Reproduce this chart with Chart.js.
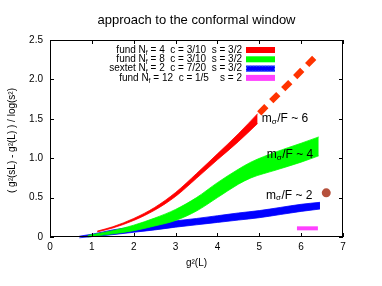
<!DOCTYPE html>
<html>
<head>
<meta charset="utf-8">
<script src="https://cdn.jsdelivr.net/npm/chart.js@4.4.1/dist/chart.umd.min.js"></script>
<style>
  html, body { margin: 0; padding: 0; background: #fff; }
  #wrap { width: 382px; height: 286px; }
</style>
</head>
<body>
<div id="wrap"><canvas id="c" width="382" height="286"></canvas></div>
<script>
/* DATA */
const redX      = [1.13, 1.5, 2.0, 2.5, 3.0, 3.5, 4.0, 4.5, 4.96];
const redTop    = [0.075, 0.13, 0.235, 0.375, 0.565, 0.805, 1.055, 1.31, 1.565];
const redBottom = [0.065, 0.115, 0.21, 0.34, 0.515, 0.745, 0.98, 1.21, 1.44];

const redDashX = [5.0, 6.4];
const redDashY = [1.57, 2.32];

const greenX      = [0.9, 1.5, 2.0, 2.5, 3.0, 3.5, 4.0, 4.5, 4.8, 5.4, 6.0, 6.42];
const greenTop    = [0.02, 0.08, 0.15, 0.24, 0.35, 0.50, 0.69, 0.86, 0.95, 1.08, 1.19, 1.27];
const greenBottom = [0.00, 0.04, 0.08, 0.14, 0.21, 0.33, 0.50, 0.67, 0.75, 0.85, 0.95, 1.03];

const blueX      = [0.7, 1.0, 1.5, 2.0, 2.5, 3.0, 3.5, 4.0, 4.5, 5.0, 5.5, 6.0, 6.45];
const blueTop    = [0.01, 0.035, 0.09, 0.13, 0.17, 0.205, 0.235, 0.27, 0.305, 0.335, 0.375, 0.415, 0.44];
const blueBottom = [-0.01, 0.005, 0.03, 0.06, 0.09, 0.125, 0.155, 0.185, 0.215, 0.245, 0.285, 0.325, 0.355];

const magentaX = [5.9, 6.4];
const magentaY = [0.11, 0.11];

const dotX = [6.6];
const dotY = [0.56];

const legendLabels = [
  ["fund N", "f", " = 4  c = 3/10  s = 3/2"],
  ["fund N", "f", " = 8  c = 3/10  s = 3/2"],
  ["sextet N", "f", " = 2  c = 7/20  s = 3/2"],
  ["fund N", "f", " = 12  c = 1/5    s = 2"]
];
const legendColors = ["#ff0000", "#00ff00", "#0000ff", "#ff40ff"];

const massLabels = [
  { x: 5.06, y: 1.50, text: "/F ~ 6" },
  { x: 5.18, y: 1.04, text: "/F ~ 4" },
  { x: 5.16, y: 0.53, text: "/F ~ 2" }
];

const xTicks = [0, 1, 2, 3, 4, 5, 6, 7];
const yTicks = [0, 0.5, 1, 1.5, 2, 2.5];

const pts = (xs, ys) => xs.map((x, i) => ({ x, y: ys[i] }));

const FONT = "'Liberation Sans', Arial, sans-serif";

function band(xs, top, bottom, color) {
  const common = { borderColor: color, borderWidth: 0.8, pointRadius: 0, cubicInterpolationMode: "monotone" };
  return [
    { ...common, data: pts(xs, top), backgroundColor: color, fill: "+1" },
    { ...common, data: pts(xs, bottom), fill: false }
  ];
}

/* extra drawing: frame, inward ticks, titles, legend, labels */
const decor = {
  id: "decor",
  afterDraw(chart) {
    const { ctx, chartArea: a, scales } = chart;
    const sx = scales.x, sy = scales.y;
    ctx.save();

    // frame
    ctx.strokeStyle = "#000";
    ctx.lineWidth = 1;
    ctx.strokeRect(a.left + 0.5, a.top + 0.5, a.right - a.left - 1, a.bottom - a.top - 1);

    // inward ticks
    const t = 4;
    ctx.beginPath();
    xTicks.forEach(v => {
      const px = Math.round(sx.getPixelForValue(v)) + 0.5;
      ctx.moveTo(px, a.bottom); ctx.lineTo(px, a.bottom - t);
      ctx.moveTo(px, a.top); ctx.lineTo(px, a.top + t);
    });
    yTicks.forEach(v => {
      const py = Math.round(sy.getPixelForValue(v)) + 0.5;
      ctx.moveTo(a.left, py); ctx.lineTo(a.left + t, py);
      ctx.moveTo(a.right, py); ctx.lineTo(a.right - t, py);
    });
    ctx.stroke();

    // title
    ctx.fillStyle = "#000";
    ctx.font = "13px " + FONT;
    ctx.textAlign = "center";
    ctx.textBaseline = "middle";
    ctx.fillText("approach to the conformal window", (a.left + a.right) / 2, 20);

    // axis titles
    ctx.font = "10px " + FONT;
    ctx.fillText("g\u00b2(L)", (a.left + a.right) / 2, 263);
    ctx.save();
    ctx.translate(12, (a.top + a.bottom) / 2 + 2);
    ctx.rotate(-Math.PI / 2);
    ctx.fillText("( g\u00b2(sL) - g\u00b2(L) ) / log(s\u00b2)", 0, 0);
    ctx.restore();

    // legend
    const rightX = 242;
    legendLabels.forEach((parts, i) => {
      const y = 50 + i * 9.3;
      ctx.font = "10px " + FONT;
      const w0 = ctx.measureText(parts[0]).width;
      const w2 = ctx.measureText(parts[2]).width;
      ctx.font = "7px " + FONT;
      const w1 = ctx.measureText(parts[1]).width;
      let x = rightX - (w0 + w1 + w2);
      ctx.textAlign = "left";
      ctx.textBaseline = "middle";
      ctx.font = "10px " + FONT;
      ctx.fillText(parts[0], x, y);
      x += w0;
      ctx.font = "7px " + FONT;
      ctx.fillText(parts[1], x, y + 3);
      x += w1;
      ctx.font = "10px " + FONT;
      ctx.fillText(parts[2], x, y);

      ctx.fillStyle = legendColors[i];
      ctx.fillRect(246, y - 3, 29, 6);
      if (i === 2) {
        ctx.strokeStyle = "#3366ff";
        ctx.setLineDash([2, 1]);
        ctx.strokeRect(246.5, y - 2.5, 28, 5);
        ctx.setLineDash([]);
      }
      ctx.fillStyle = "#000";
    });

    // m_sigma/F labels
    massLabels.forEach(l => {
      const px = sx.getPixelForValue(l.x);
      const py = sy.getPixelForValue(l.y);
      ctx.textAlign = "left";
      ctx.textBaseline = "middle";
      ctx.font = "12px " + FONT;
      ctx.fillText("m", px, py);
      let x = px + ctx.measureText("m").width;
      ctx.font = "8px " + FONT;
      ctx.fillText("\u03c3", x, py + 3);
      x += ctx.measureText("\u03c3").width + 0.5;
      ctx.font = "12px " + FONT;
      ctx.fillText(l.text, x, py);
    });

    ctx.restore();
  }
};

new Chart(document.getElementById("c"), {
  type: "line",
  data: {
    datasets: [
      ...band(redX, redTop, redBottom, "#ff0000"),
      ...band(greenX, greenTop, greenBottom, "#00ff00"),
      ...band(blueX, blueTop, blueBottom, "#0000ff"),
      { data: pts(redDashX, redDashY), borderColor: "#ff3300", borderWidth: 6, borderDash: [10, 7], borderCapStyle: "butt", pointRadius: 0, fill: false },
      { data: pts(magentaX, magentaY), borderColor: "#ff40ff", borderWidth: 4, pointRadius: 0, fill: false },
      { data: pts(dotX, dotY), showLine: false, pointRadius: 4.5, pointBackgroundColor: "#b5503c", pointBorderColor: "#b5503c", pointBorderWidth: 0 }
    ]
  },
  options: {
    responsive: false,
    animation: false,
    clip: false,
    layout: { padding: { top: 40, right: 39, left: 0, bottom: 0 } },
    plugins: { legend: { display: false }, title: { display: false }, tooltip: { enabled: false } },
    scales: {
      x: {
        type: "linear", min: 0, max: 7,
        grid: { display: false, drawTicks: false }, border: { display: false },
        ticks: { stepSize: 1, color: "#000", font: { family: FONT, size: 10 }, padding: 4, maxRotation: 0 },
        afterFit: s => { s.height = 49; }
      },
      y: {
        type: "linear", min: 0, max: 2.5,
        grid: { display: false, drawTicks: false }, border: { display: false },
        ticks: { stepSize: 0.5, color: "#000", font: { family: FONT, size: 10 }, padding: 7 },
        afterFit: s => { s.width = 50; }
      }
    }
  },
  plugins: [decor]
});
</script>
</body>
</html>
